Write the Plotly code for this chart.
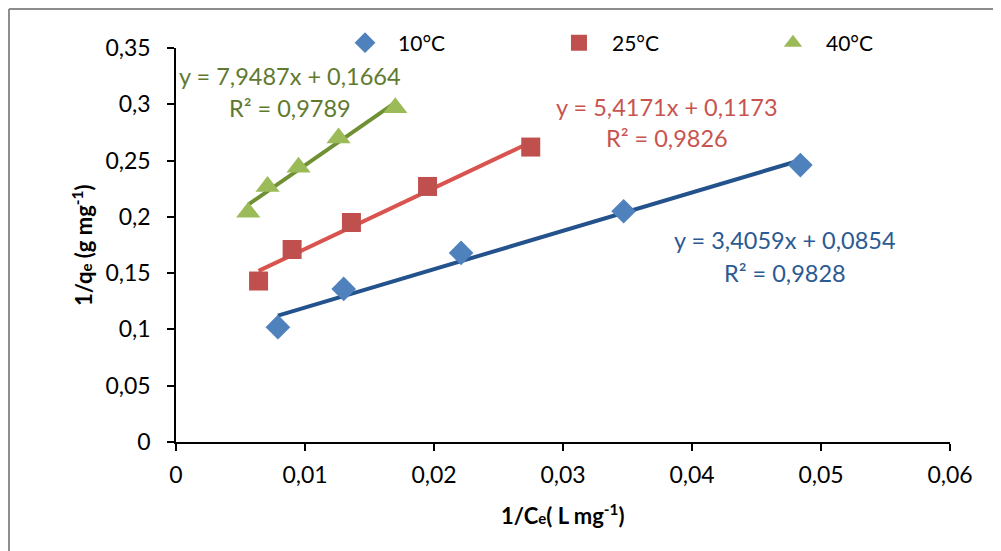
import plotly.graph_objects as go

# ---- data ----
x_10 = [0.0079, 0.0130, 0.0221, 0.0347, 0.0484]
y_10 = [0.102, 0.136, 0.168, 0.205, 0.246]
x_25 = [0.0064, 0.0090, 0.0136, 0.0195, 0.0275]
y_25 = [0.143, 0.171, 0.195, 0.227, 0.262]
x_40 = [0.0056, 0.0071, 0.0095, 0.0126, 0.0170]
y_40 = [0.204, 0.227, 0.244, 0.270, 0.297]
fit_10 = (3.4059, 0.0854)
fit_25 = (5.4171, 0.1173)
fit_40 = (7.9487, 0.1664)
eq_10 = ["y = 3,4059x + 0,0854", "R² = 0,9828"]
eq_25 = ["y = 5,4171x + 0,1173", "R² = 0,9826"]
eq_40 = ["y = 7,9487x + 0,1664", "R² = 0,9789"]
names = ["10°C", "25°C", "40°C"]
x_ticks = [0, 0.01, 0.02, 0.03, 0.04, 0.05, 0.06]
x_ticktext = ["0", "0,01", "0,02", "0,03", "0,04", "0,05", "0,06"]
y_ticks = [0, 0.05, 0.1, 0.15, 0.2, 0.25, 0.3, 0.35]
y_ticktext = ["0", "0,05", "0,1", "0,15", "0,2", "0,25", "0,3", "0,35"]

FONT = "Lato"
FS = 23
marker_cols = ["#4F81BD", "#C0504D", "#9BBB59"]
line_cols = ["#24528C", "#D9534F", "#6F9134"]
text_cols = ["#2C5A92", "#C85450", "#5F7A2E"]
symbols = ["diamond", "square", "triangle-up"]
sizes = [19, 19, 21]
legend_ids = ["legend", "legend2", "legend3"]
legend_x = [0.2016, 0.478, 0.7545]

fig = go.Figure()
series = [(x_10, y_10, fit_10), (x_25, y_25, fit_25), (x_40, y_40, fit_40)]
for i, (xs, ys, (m, b)) in enumerate(series):
    x0, x1 = min(xs), max(xs)
    fig.add_trace(go.Scatter(x=[x0, x1], y=[m * x0 + b, m * x1 + b], mode="lines",
                             line=dict(color=line_cols[i], width=4), showlegend=False,
                             hoverinfo="skip"))
for i, (xs, ys, _) in enumerate(series):
    fig.add_trace(go.Scatter(x=xs, y=ys, mode="markers", name=names[i], legend=legend_ids[i],
                             marker=dict(symbol=symbols[i], size=sizes[i], color=marker_cols[i],
                                         line=dict(width=0))))

anns = []
eq_x = [0.0472, 0.0381, 0.00884]
eq_y = [[0.1794, 0.150], [0.2975, 0.270], [0.325, 0.2966]]
for i, eq in enumerate([eq_10, eq_25, eq_40]):
    for j, t in enumerate(eq):
        anns.append(dict(x=eq_x[i], y=eq_y[i][j], xref="x", yref="y", text=t,
                         xanchor="center", yanchor="middle",
                         showarrow=False, font=dict(family=FONT, size=23.5, color=text_cols[i])))

anns.append(dict(x=0.5, y=-0.185, xref="paper", yref="paper", xanchor="center", yanchor="middle",
                 text="<b>1/C<span style='font-size:15px'>e</span>( L mg<sup>-1</sup>)</b>",
                 showarrow=False, font=dict(family=FONT, size=22, color="black")))
anns.append(dict(x=-0.1214, y=0.5, xref="paper", yref="paper", xanchor="center", yanchor="middle",
                 textangle=-90,
                 text="<b>1/q<span style='font-size:15px'>e</span> (g mg<sup>-1</sup>)</b>",
                 showarrow=False, font=dict(family=FONT, size=22, color="black")))

shapes = [
    dict(type="line", xref="paper", yref="paper", x0=-0.2158, x1=-0.2158, y0=-0.3, y1=1.099,
         line=dict(color="#8C8C8C", width=2)),
    dict(type="line", xref="paper", yref="paper", x0=-0.2158, x1=1.1, y0=1.099, y1=1.099,
         line=dict(color="#8C8C8C", width=2)),
]

legend_common = dict(orientation="h", y=1.0127, xanchor="left", yanchor="middle",
                     itemwidth=56, font=dict(family=FONT, size=21, color="black"),
                     bgcolor="rgba(0,0,0,0)", borderwidth=0)

fig.update_layout(
    width=993, height=543,
    margin=dict(l=168, r=51, t=40, b=109, autoexpand=False),
    paper_bgcolor="white", plot_bgcolor="white",
    font=dict(family=FONT, size=FS, color="black"),
    annotations=anns, shapes=shapes,
    legend=dict(x=legend_x[0], **legend_common),
    legend2=dict(x=legend_x[1], **legend_common),
    legend3=dict(x=legend_x[2], **legend_common),
    xaxis=dict(range=[0, 0.06], tickvals=x_ticks, ticktext=x_ticktext, showgrid=False,
               zeroline=False, showline=True, linecolor="black", linewidth=1.5,
               ticks="outside", ticklen=7, tickcolor="black", tickwidth=1.5,
               ticklabelstandoff=5, tickfont=dict(family=FONT, size=FS)),
    yaxis=dict(range=[0, 0.35], tickvals=y_ticks, ticktext=y_ticktext, showgrid=False,
               zeroline=False, showline=True, linecolor="black", linewidth=1.5,
               ticks="outside", ticklen=7, tickcolor="black", tickwidth=1.5,
               ticklabelstandoff=12, tickfont=dict(family=FONT, size=FS)),
)

fig.write_html("out.html")
